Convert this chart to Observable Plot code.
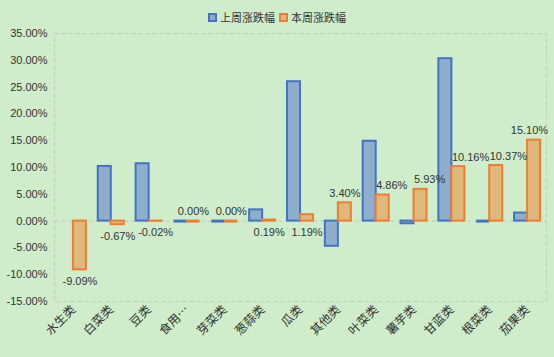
<!DOCTYPE html>
<html>
<head>
<meta charset="utf-8">
<script src="https://cdn.jsdelivr.net/npm/d3@7"></script>
<script src="https://cdn.jsdelivr.net/npm/@observablehq/plot@0.6"></script>
<style>
  html, body { margin: 0; padding: 0; background: #CFEDCA; }
  body { width: 554px; height: 357px; overflow: hidden; font-family: "Liberation Sans", "Noto Sans CJK SC", sans-serif; }
  #legend { height: 26px; display: flex; justify-content: center; align-items: flex-end; gap: 4px; font-size: 11px; color: #333; font-family: "Noto Sans CJK SC", sans-serif; }
  #legend .item { display: flex; align-items: center; gap: 3px; line-height: 14px; margin-bottom: 2px; }
  #legend .sw { width: 5px; height: 5px; border: 2px solid; display: inline-block; }
  svg { display: block; }
</style>
</head>
<body>
<div id="legend"></div>
<div id="chart"></div>
<script>
const categories = ["水生类", "白菜类", "豆类", "食用菌类", "芽菜类", "葱蒜类", "瓜类", "其他类", "叶菜类", "薯芋类", "甘蓝类", "根菜类", "茄果类"];
const seriesNames = ["上周涨跌幅", "本周涨跌幅"];
const lastWeek = [null, 10.2, 10.7, 0, 0, 2.1, 26.0, -4.7, 14.9, -0.5, 30.3, 0, 1.5];
const thisWeek = [-9.09, -0.67, -0.02, 0.00, 0.00, 0.19, 1.19, 3.40, 4.86, 5.93, 10.16, 10.37, 15.10];
const yTicks = [-15, -10, -5, 0, 5, 10, 15, 20, 25, 30, 35];

const fills = {"上周涨跌幅": "#8DAFCB", "本周涨跌幅": "#E0B87C"};
const strokes = {"上周涨跌幅": "#4472C4", "本周涨跌幅": "#ED7D31"};

const rows = [];
categories.forEach((c, i) => {
  if (lastWeek[i] != null) rows.push({category: c, series: seriesNames[0], value: lastWeek[i]});
  rows.push({category: c, series: seriesNames[1], value: thisWeek[i]});
});
const labels = categories.map((c, i) => ({category: c, value: thisWeek[i]}));

// label placement styles (layout adjustments like the original's overlap avoidance)
const belowCats = new Set(["葱蒜类", "瓜类"]);
const startCats = new Set(["叶菜类", "薯芋类", "甘蓝类", "根菜类"]);
const endCats = new Set(["茄果类"]);

const fmt = v => v.toFixed(2) + "%";
const textStyle = {fontSize: 11, fill: "#333", fontFamily: "Liberation Sans, sans-serif"};

const legend = document.getElementById("legend");
seriesNames.forEach(s => {
  const it = document.createElement("div");
  it.className = "item";
  const sw = document.createElement("span");
  sw.className = "sw";
  sw.style.background = fills[s];
  sw.style.borderColor = strokes[s];
  it.appendChild(sw);
  const t = document.createElement("span");
  t.textContent = s;
  it.appendChild(t);
  legend.appendChild(it);
});

const offsets = {"上周涨跌幅": -6.5, "本周涨跌幅": 6.5};
const seriesMarks = seriesNames.flatMap(s => {
  const data = rows.filter(d => d.series === s);
  return [
    Plot.barY(data.filter(d => d.value !== 0), {x: "category", y: "value", dx: offsets[s], fill: fills[s], stroke: strokes[s], strokeWidth: 2}),
    Plot.tickY(data.filter(d => d.value === 0), {x: "category", y: "value", dx: offsets[s], stroke: strokes[s], strokeWidth: 3})
  ];
});

const above = d => d.value >= 0 && !belowCats.has(d.category);

const chart = Plot.plot({
  width: 554,
  height: 331,
  marginTop: 7,
  marginBottom: 56,
  marginLeft: 54,
  marginRight: 8,
  style: {background: "transparent", fontFamily: "Liberation Sans, Noto Sans CJK SC, sans-serif", color: "#333"},
  x: {domain: categories, paddingInner: 0.656, paddingOuter: 0.328, round: false, label: null, axis: null},
  y: {domain: [-15, 35], label: null, axis: null},
  marks: [
    Plot.frame({stroke: "#B9CFB5", strokeDasharray: "4,3"}),
    Plot.ruleY([0], {stroke: "#B9CFB5", strokeDasharray: "4,3"}),
    ...seriesMarks,
    Plot.text(labels.filter(d => above(d) && !startCats.has(d.category) && !endCats.has(d.category)), {x: "category", y: "value", text: d => fmt(d.value), dx: 6.5, dy: -6, lineAnchor: "bottom", ...textStyle}),
    Plot.text(labels.filter(d => above(d) && startCats.has(d.category)), {x: "category", y: "value", text: d => fmt(d.value), dx: 0, dy: -6, lineAnchor: "bottom", textAnchor: "start", ...textStyle}),
    Plot.text(labels.filter(d => above(d) && endCats.has(d.category)), {x: "category", y: "value", text: d => fmt(d.value), dx: 20.5, dy: -6, lineAnchor: "bottom", textAnchor: "end", ...textStyle}),
    Plot.text(labels.filter(d => !above(d)), {x: "category", y: d => Math.min(d.value, 0), text: d => fmt(d.value), dx: 6.5, dy: 7, lineAnchor: "top", ...textStyle}),
    Plot.axisY(yTicks, {tickSize: 0, tickPadding: 7, tickFormat: fmt, fontSize: 11, fill: "#333"}),
    Plot.axisX({tickSize: 0, tickPadding: 6, tickRotate: -45, fontSize: 12, fill: "#333",
      fontFamily: "Noto Sans CJK SC, sans-serif",
      tickFormat: d => d.length > 3 ? d.slice(0, 2) + "…" : d})
  ]
});
document.getElementById("chart").appendChild(chart);
</script>
</body>
</html>
